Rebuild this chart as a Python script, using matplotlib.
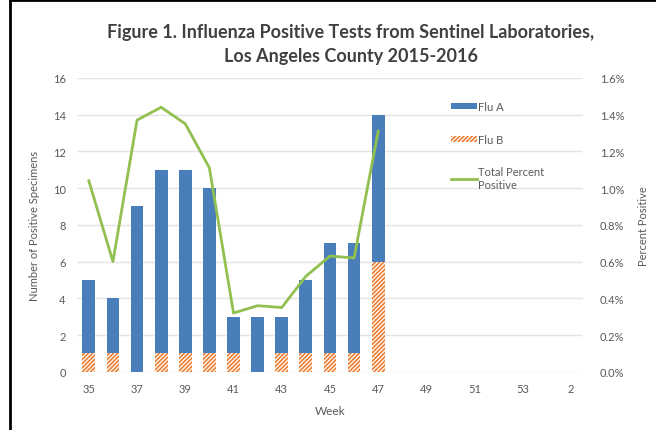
import numpy as np
import matplotlib
matplotlib.use('Agg')
import matplotlib.pyplot as plt
from matplotlib.ticker import FuncFormatter
from matplotlib.lines import Line2D

# Weeks shown on the x axis (season runs 35..53 then 1, 2)
weeks = list(range(35, 54)) + [1, 2]
tick_weeks = [35, 37, 39, 41, 43, 45, 47, 49, 51, 53, 2]

# Counts of positive specimens, weeks 35-47
flu_b = [1, 1, 0, 1, 1, 1, 1, 0, 1, 1, 1, 1, 6]
flu_a = [4, 3, 9, 10, 10, 9, 2, 3, 2, 4, 6, 6, 8]
# Total percent positive, weeks 35-47
pct_positive = [1.04, 0.60, 1.37, 1.44, 1.35, 1.11, 0.32, 0.36, 0.35, 0.52, 0.63, 0.62, 1.31]

plt.rcParams['font.family'] = ['Lato', 'DejaVu Sans']
plt.rcParams['hatch.linewidth'] = 1.2

blue = '#4a7ebb'
orange = '#ed7d31'
green = '#92c050'
gray_txt = '#595959'

fig = plt.figure(figsize=(6.56, 4.31), dpi=100)
ax = fig.add_axes([0.117, 0.135, 0.772, 0.682])

n = len(flu_a)
index = np.arange(n)
bar_width = 0.53

ax.bar(index, flu_a, bar_width, bottom=flu_b, color=blue, label='Flu A', zorder=2)
ax.bar(index, flu_b, bar_width, facecolor='white', edgecolor=orange,
       hatch='////////', linewidth=0, label='Flu B', zorder=2)

ax.set_xlim(-0.5, len(weeks) - 0.5)
ax.set_ylim(0, 16)
ax.set_yticks(range(0, 17, 2))
ax.grid(axis='y', color='#e4e4e4', linewidth=1, zorder=0)
ax.set_axisbelow(True)
for s in ax.spines.values():
    s.set_visible(False)
ax.tick_params(length=0, labelsize=8, colors=gray_txt, pad=8)
tick_pos = [weeks.index(w) for w in tick_weeks]
ax.set_xticks(tick_pos)
ax.set_xticklabels([str(w) for w in tick_weeks])
ax.set_xlabel('Week', fontsize=8.5, color=gray_txt, labelpad=8)
ax.set_ylabel('Number of Positive Specimens', fontsize=8, color=gray_txt, labelpad=9)

ax2 = ax.twinx()
ax2.plot(index, np.array(pct_positive) / 100, color=green, linewidth=2,
         label='Total Percent\nPositive', zorder=3)
ax2.set_ylim(0, 0.016)
ax2.set_yticks(np.arange(0, 0.0161, 0.002))
ax2.yaxis.set_major_formatter(FuncFormatter(lambda v, p: '%.1f%%' % (v * 100)))
for s in ax2.spines.values():
    s.set_visible(False)
ax2.tick_params(length=0, labelsize=8, colors=gray_txt, pad=12)
ax2.set_ylabel('Percent Positive', fontsize=8, color=gray_txt, labelpad=10)

h1, l1 = ax.get_legend_handles_labels()
h2, l2 = ax2.get_legend_handles_labels()
leg = ax2.legend(h1 + h2, l1 + l2, loc='upper left', bbox_to_anchor=(0.72, 0.955),
                 frameon=False, fontsize=8, labelspacing=1.95, handlelength=2.3,
                 handletextpad=0.1, handleheight=0.5)
for t in leg.get_texts():
    t.set_color(gray_txt)

fig.text(0.535, 0.925, 'Figure 1. Influenza Positive Tests from Sentinel Laboratories,',
         ha='center', va='center', fontsize=13, fontweight='bold', color='#404040')
fig.text(0.535, 0.868, 'Los Angeles County 2015-2016',
         ha='center', va='center', fontsize=13, fontweight='bold', color='#404040')

# black frame on the left and top edges of the picture
fig.add_artist(Line2D([0.016, 0.016], [0, 0.997], color='black', linewidth=2, transform=fig.transFigure))
fig.add_artist(Line2D([0.016, 1], [0.997, 0.997], color='black', linewidth=2, transform=fig.transFigure))

plt.savefig('out.png')
